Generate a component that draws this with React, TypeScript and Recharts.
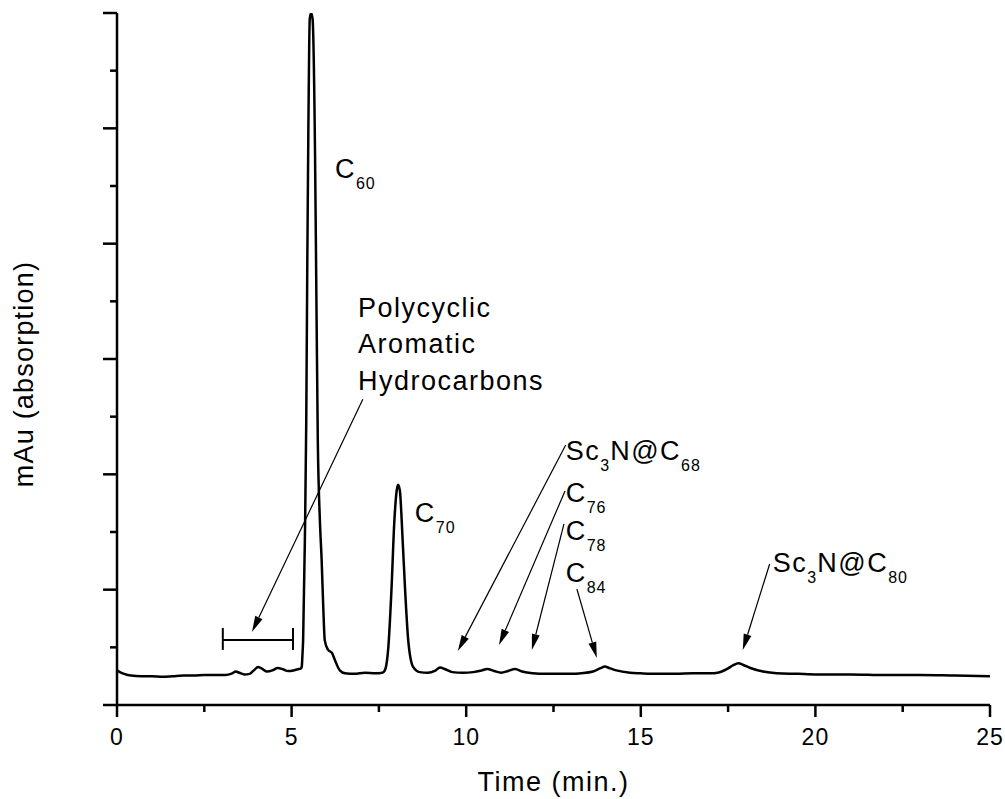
import { LineChart, Line, XAxis, YAxis, ReferenceLine, ReferenceDot, Label } from 'recharts';

// HPLC trace (time in min, absorption in arbitrary mAu units)
const timeMin = [
  0, 0.08, 0.2, 0.4, 0.7, 1.0, 1.3, 1.6, 1.9, 2.2, 2.5, 2.8, 3.1, 3.3, 3.4, 3.5, 3.65, 3.8, 3.92, 4.04,
  4.15, 4.3, 4.45, 4.6, 4.75, 4.9, 5.05, 5.18, 5.26, 5.29, 5.31, 5.33, 5.38, 5.42, 5.45, 5.48, 5.52, 5.56,
  5.6, 5.67, 5.7, 5.75, 5.81, 5.86, 5.91, 5.95, 6.04, 6.16, 6.24, 6.38, 6.53, 6.8, 7.1, 7.4, 7.6, 7.67,
  7.77, 7.86, 7.94, 8.01, 8.05, 8.1, 8.18, 8.25, 8.34, 8.48, 8.67, 8.9, 9.1, 9.25, 9.4, 9.6, 9.9, 10.2,
  10.45, 10.6, 10.8, 11.0, 11.2, 11.4, 11.6, 11.9, 12.3, 12.7, 13.0, 13.3, 13.63, 13.85, 13.97, 14.1,
  14.3, 14.69, 15.0, 15.5, 16.0, 16.5, 17.0, 17.2, 17.5, 17.65, 17.79, 17.95, 18.12, 18.5, 18.89, 19.5,
  20.0, 21.0, 22.0, 23.0, 24.0, 25.0,
];
const mAu = [
  0.3, 0.285, 0.27, 0.255, 0.25, 0.25, 0.245, 0.25, 0.255, 0.255, 0.26, 0.26, 0.26, 0.275, 0.29, 0.28, 0.265, 0.27, 0.3, 0.33,
  0.315, 0.29, 0.3, 0.32, 0.31, 0.295, 0.3, 0.31, 0.315, 0.33, 0.43, 0.56, 1.43, 2.47, 3.86, 4.99, 5.95, 6.0,
  5.95, 4.81, 3.86, 2.3, 1.6, 1.26, 0.82, 0.56, 0.48, 0.45, 0.39, 0.3, 0.275, 0.27, 0.28, 0.275, 0.28, 0.3,
  0.5, 1.0, 1.58, 1.86, 1.91, 1.86, 1.43, 1.0, 0.56, 0.33, 0.285, 0.28, 0.295, 0.325, 0.31, 0.285, 0.28, 0.285,
  0.3, 0.312, 0.295, 0.28, 0.295, 0.312, 0.29, 0.275, 0.27, 0.27, 0.27, 0.275, 0.29, 0.32, 0.333, 0.32,
  0.3, 0.28, 0.275, 0.27, 0.27, 0.275, 0.275, 0.28, 0.318, 0.345, 0.362, 0.345, 0.323, 0.29, 0.275, 0.27,
  0.265, 0.265, 0.26, 0.26, 0.255, 0.25,
];

const xTicks = [0, 2.5, 5, 7.5, 10, 12.5, 15, 17.5, 20, 22.5, 25];
const yTicks = [0, 0.5, 1, 1.5, 2, 2.5, 3, 3.5, 4, 4.5, 5, 5.5, 6];

// peak labels, "_" toggles subscript
const peakLabels = [
  { t: 6.24, v: 4.57, text: 'C_60' },
  { t: 6.9, v: 3.364, text: 'Polycyclic' },
  { t: 6.9, v: 3.052, text: 'Aromatic' },
  { t: 6.9, v: 2.731, text: 'Hydrocarbons' },
  { t: 8.53, v: 1.587, text: 'C_70' },
  { t: 12.85, v: 2.124, text: 'Sc_3_N@C_68' },
  { t: 12.85, v: 1.76, text: 'C_76' },
  { t: 12.85, v: 1.431, text: 'C_78' },
  { t: 12.85, v: 1.066, text: 'C_84' },
  { t: 18.78, v: 1.153, text: 'Sc_3_N@C_80' },
];

const arrows = [
  { from: [7.04, 2.65], to: [3.865, 0.633] },
  { from: [12.85, 2.254], to: [9.76, 0.468] },
  { from: [12.83, 1.856], to: [10.94, 0.52] },
  { from: [12.8, 1.57], to: [11.88, 0.477] },
  { from: [13.17, 1.006], to: [13.74, 0.408] },
  { from: [18.69, 1.223], to: [17.92, 0.477] },
];

const pahRange = [3.03, 5.04];
const pahLevel = 0.564;

const FONT = '"Liberation Sans", Arial, sans-serif';

const rows = timeMin.map((t, i) => ({ t, v: mAu[i] }));

const ArrowShape = (p: any) => {
  const { x1, y1, x2, y2 } = p;
  const dx = x2 - x1;
  const dy = y2 - y1;
  const len = Math.hypot(dx, dy) || 1;
  const ux = dx / len;
  const uy = dy / len;
  const hl = 16;
  const hw = 4;
  const bx = x2 - ux * hl;
  const by = y2 - uy * hl;
  return (
    <g>
      <line x1={x1} y1={y1} x2={bx} y2={by} stroke="#000" strokeWidth={1.2} />
      <polygon
        points={`${x2},${y2} ${bx - uy * hw},${by + ux * hw} ${bx + uy * hw},${by - ux * hw}`}
        fill="#000"
      />
    </g>
  );
};

const BracketShape = (p: any) => {
  const { x1, y1, x2, y2 } = p;
  return (
    <g stroke="#000" strokeWidth={2}>
      <line x1={x1} y1={y1} x2={x2} y2={y2} />
      <line x1={x1} y1={y1 - 12} x2={x1} y2={y1 + 10} />
      <line x1={x2} y1={y2 - 12} x2={x2} y2={y2 + 10} />
    </g>
  );
};

const chemLabel = (text: string) => (p: any) => {
  const parts = text.split('_');
  return (
    <text x={p.cx} y={p.cy} fontFamily={FONT} fontSize={27} letterSpacing={1.5} fill="#000">
      {parts.map((s, i) => {
        const sub = i % 2 === 1;
        const dy = sub ? 11 : i > 0 ? -11 : 0;
        return (
          <tspan key={i} dy={dy} fontSize={sub ? 16 : 27} letterSpacing={sub ? 1 : 1.5}>
            {s}
          </tspan>
        );
      })}
    </text>
  );
};

const YTick = (p: any) => {
  const major = Number.isInteger(p.payload.value);
  return <line x1={p.x - (major ? 14 : 7)} y1={p.y} x2={p.x} y2={p.y} stroke="#000" strokeWidth={2.5} />;
};

const XTick = (p: any) => {
  const val = p.payload.value;
  const major = val % 5 === 0;
  return (
    <g>
      <line x1={p.x} y1={p.y} x2={p.x} y2={p.y + (major ? 12 : 7)} stroke="#000" strokeWidth={2.5} />
      {major && (
        <text x={p.x} y={p.y + 40} textAnchor="middle" fontFamily={FONT} fontSize={23} letterSpacing={1} fill="#000">
          {val}
        </text>
      )}
    </g>
  );
};

export default function App() {
  return (
    <div style={{ position: 'absolute', left: 0, top: 0, background: '#fff' }}>
      <LineChart width={1005} height={799} data={rows} margin={{ top: 13, right: 15, bottom: 64, left: 57 }}>
        <XAxis
          dataKey="t"
          type="number"
          domain={[0, 25]}
          ticks={xTicks}
          interval={0}
          tickSize={0}
          tickMargin={0}
          tickLine={false}
          tick={XTick}
          height={30}
          axisLine={{ stroke: '#000', strokeWidth: 2.5 }}
        >
          <Label
            content={(props: any) => {
              const vb = props.viewBox;
              return (
                <text x={vb.x + vb.width / 2} y={vb.y + 86} textAnchor="middle" fontFamily={FONT} fontSize={27} letterSpacing={1.5} fill="#000">
                  Time (min.)
                </text>
              );
            }}
          />
        </XAxis>
        <YAxis
          type="number"
          domain={[0, 6]}
          ticks={yTicks}
          interval={0}
          width={60}
          tickSize={0}
          tickMargin={0}
          tickLine={false}
          tick={YTick}
          allowDataOverflow
          axisLine={{ stroke: '#000', strokeWidth: 2.5 }}
        >
          <Label
            content={(props: any) => {
              const vb = props.viewBox;
              const cx = vb.x - 24;
              const cy = vb.y + 361;
              return (
                <text x={cx} y={cy} transform={`rotate(-90 ${cx} ${cy})`} textAnchor="middle" fontFamily={FONT} fontSize={27} letterSpacing={1.2} fill="#000">
                  mAu (absorption)
                </text>
              );
            }}
          />
        </YAxis>
        <Line type="monotone" dataKey="v" stroke="#000" strokeWidth={2.5} dot={false} isAnimationActive={false} />
        <ReferenceLine
          segment={[{ x: pahRange[0], y: pahLevel }, { x: pahRange[1], y: pahLevel }]}
          shape={BracketShape}
          ifOverflow="visible"
        />
        {arrows.map((a, i) => (
          <ReferenceLine
            key={`arrow-${i}`}
            segment={[{ x: a.from[0], y: a.from[1] }, { x: a.to[0], y: a.to[1] }]}
            shape={ArrowShape}
            ifOverflow="visible"
          />
        ))}
        {peakLabels.map((l, i) => (
          <ReferenceDot key={`lbl-${i}`} x={l.t} y={l.v} r={0} shape={chemLabel(l.text)} ifOverflow="visible" />
        ))}
      </LineChart>
    </div>
  );
}
